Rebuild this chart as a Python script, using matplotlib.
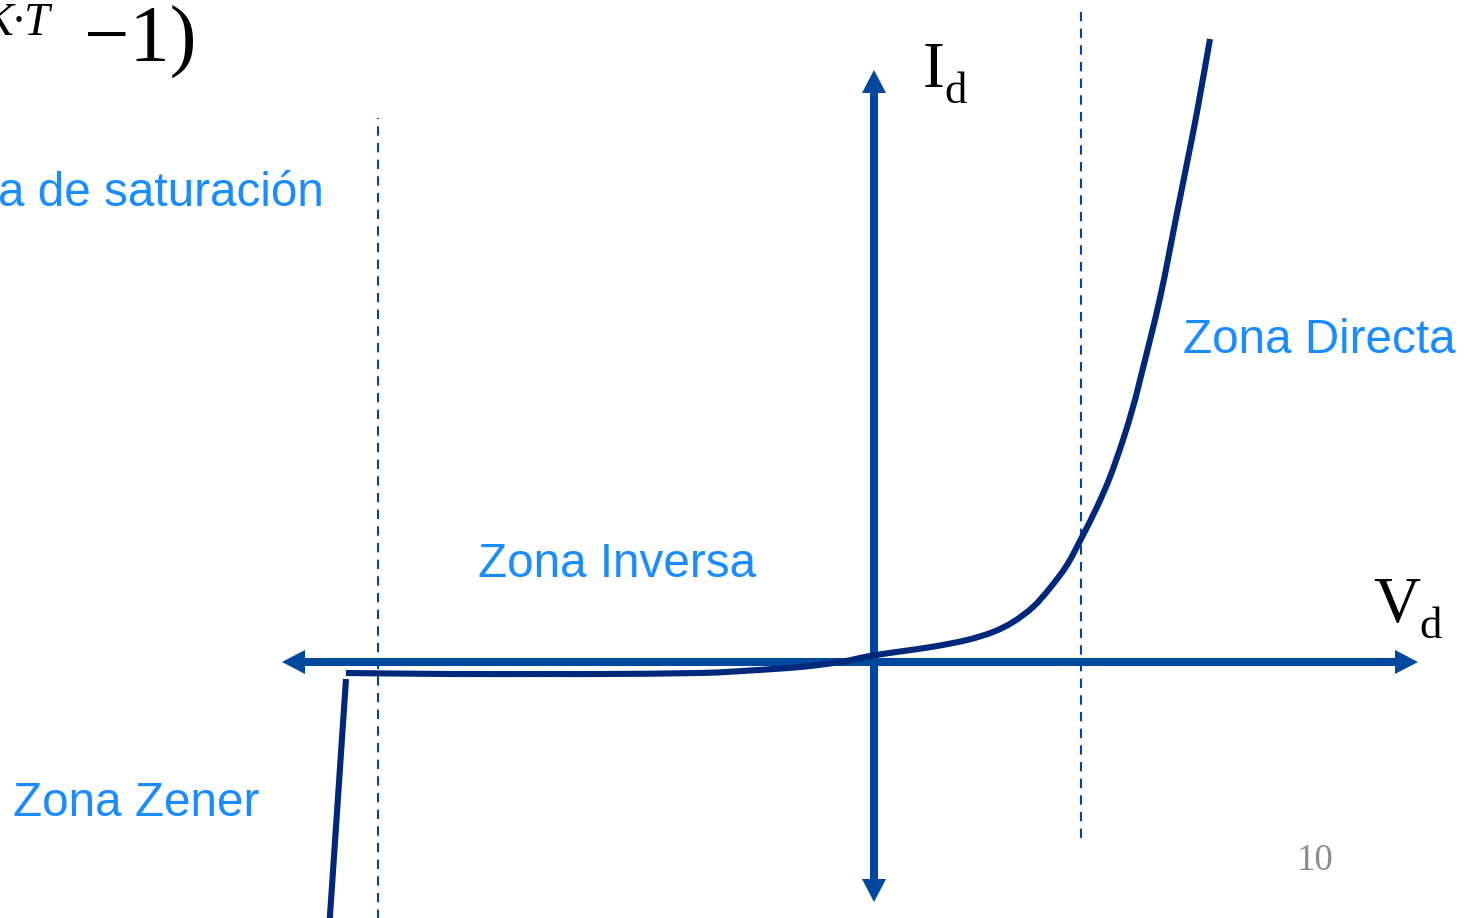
import matplotlib
matplotlib.use("Agg")
import matplotlib.pyplot as plt
from matplotlib.patches import FancyArrow, PathPatch
from matplotlib.path import Path

# ---- data (diagram units: 1 unit = 1 px, origin at axis crossing) ----
curve_vd = [-528, -424, -324, -274, -174, -124, -74, -34, -4, 26, 59, 93, 119,
            139, 159, 176, 193, 208, 223, 236, 249, 259, 266, 286, 303, 313, 323, 336]
curve_id = [-11, -12, -12, -12, -11, -8.5, -5, 0, 6, 10.5, 15.3, 22, 30,
            40, 55, 74, 97, 125, 155, 185, 222, 255, 282, 364, 449, 499, 550, 623]
zener_vd = [-528, -545]
zener_id = [-17, -268]
guide_vd = [-496, 207]          # dashed vertical guide positions
guide_top = [544, 654]
guide_bot = [-260, -176]
axis_v_range = (-592, 544)      # horizontal axis extent
axis_i_range = (-240, 592)      # vertical axis extent

AX_BLUE = "#0047A0"
CURVE = "#00287A"
TXT_BLUE = "#1A8CFF"

fig = plt.figure(figsize=(14.68, 9.18), dpi=100)
ax = fig.add_axes([0, 0, 1, 1])
ax.set_xlim(-874, 594)
ax.set_ylim(-256, 662)
ax.axis("off")

# dashed guides
for gx, gt, gb in zip(guide_vd, guide_top, guide_bot):
    ax.plot([gx, gx], [gb, gt], color=AX_BLUE, lw=1.5, ls=(0, (4.5, 3.5)), zorder=1)

# axes arrows (drawn from origin to each end)
def arr(x0, y0, dx, dy):
    ax.add_patch(FancyArrow(x0, y0, dx, dy, width=8, head_width=24, head_length=23,
                            length_includes_head=True, color=AX_BLUE, lw=0, zorder=2))

arr(0, 0, axis_v_range[0], 0)
arr(0, 0, axis_v_range[1], 0)
arr(0, 0, 0, axis_i_range[0])
arr(0, 0, 0, axis_i_range[1])

# diode curve: smooth path through the read points (Catmull-Rom as cubic Beziers)
pts = list(zip(curve_vd, curve_id))
verts = [pts[0]]
codes = [Path.MOVETO]
n = len(pts)
for i in range(n - 1):
    p0 = pts[i - 1] if i > 0 else pts[i]
    p1 = pts[i]
    p2 = pts[i + 1]
    p3 = pts[i + 2] if i + 2 < n else pts[i + 1]
    c1 = (p1[0] + (p2[0] - p0[0]) / 6, p1[1] + (p2[1] - p0[1]) / 6)
    c2 = (p2[0] - (p3[0] - p1[0]) / 6, p2[1] - (p3[1] - p1[1]) / 6)
    verts += [c1, c2, p2]
    codes += [Path.CURVE4] * 3
ax.add_patch(PathPatch(Path(verts, codes), facecolor="none", edgecolor=CURVE,
                       lw=4.4, capstyle="butt", joinstyle="round", zorder=3))
ax.plot(zener_vd, zener_id, color=CURVE, lw=4.4, solid_capstyle="butt", zorder=3)

def T(px, py, s, **kw):
    ax.text(px - 874, 662 - py, s, ha="left", va="baseline", **kw)

sans = dict(family="Liberation Sans", color=TXT_BLUE, fontsize=34.3)
T(-2, 206, "a de saturación", **sans)
T(478, 577, "Zona Inversa", **sans)
T(1183, 353, "Zona Directa", **sans)
T(13, 816, "Zona Zener", **sans)

serif = dict(family="Liberation Serif", color="black")
T(923, 87, "I", fontsize=47, **serif)
T(944, 103, "d", fontsize=32, **serif)
T(1373, 622, "V", fontsize=47, **serif)
T(1419, 638, "d", fontsize=32, **serif)

T(-17, 35, "K·T", fontsize=33, style="italic", **serif)
T(84, 62, "−1)", fontsize=58, **serif)

T(1297, 870, "10", family="Liberation Serif", color="#8C8C8C", fontsize=26.5)

fig.savefig("out.png", dpi=100)
